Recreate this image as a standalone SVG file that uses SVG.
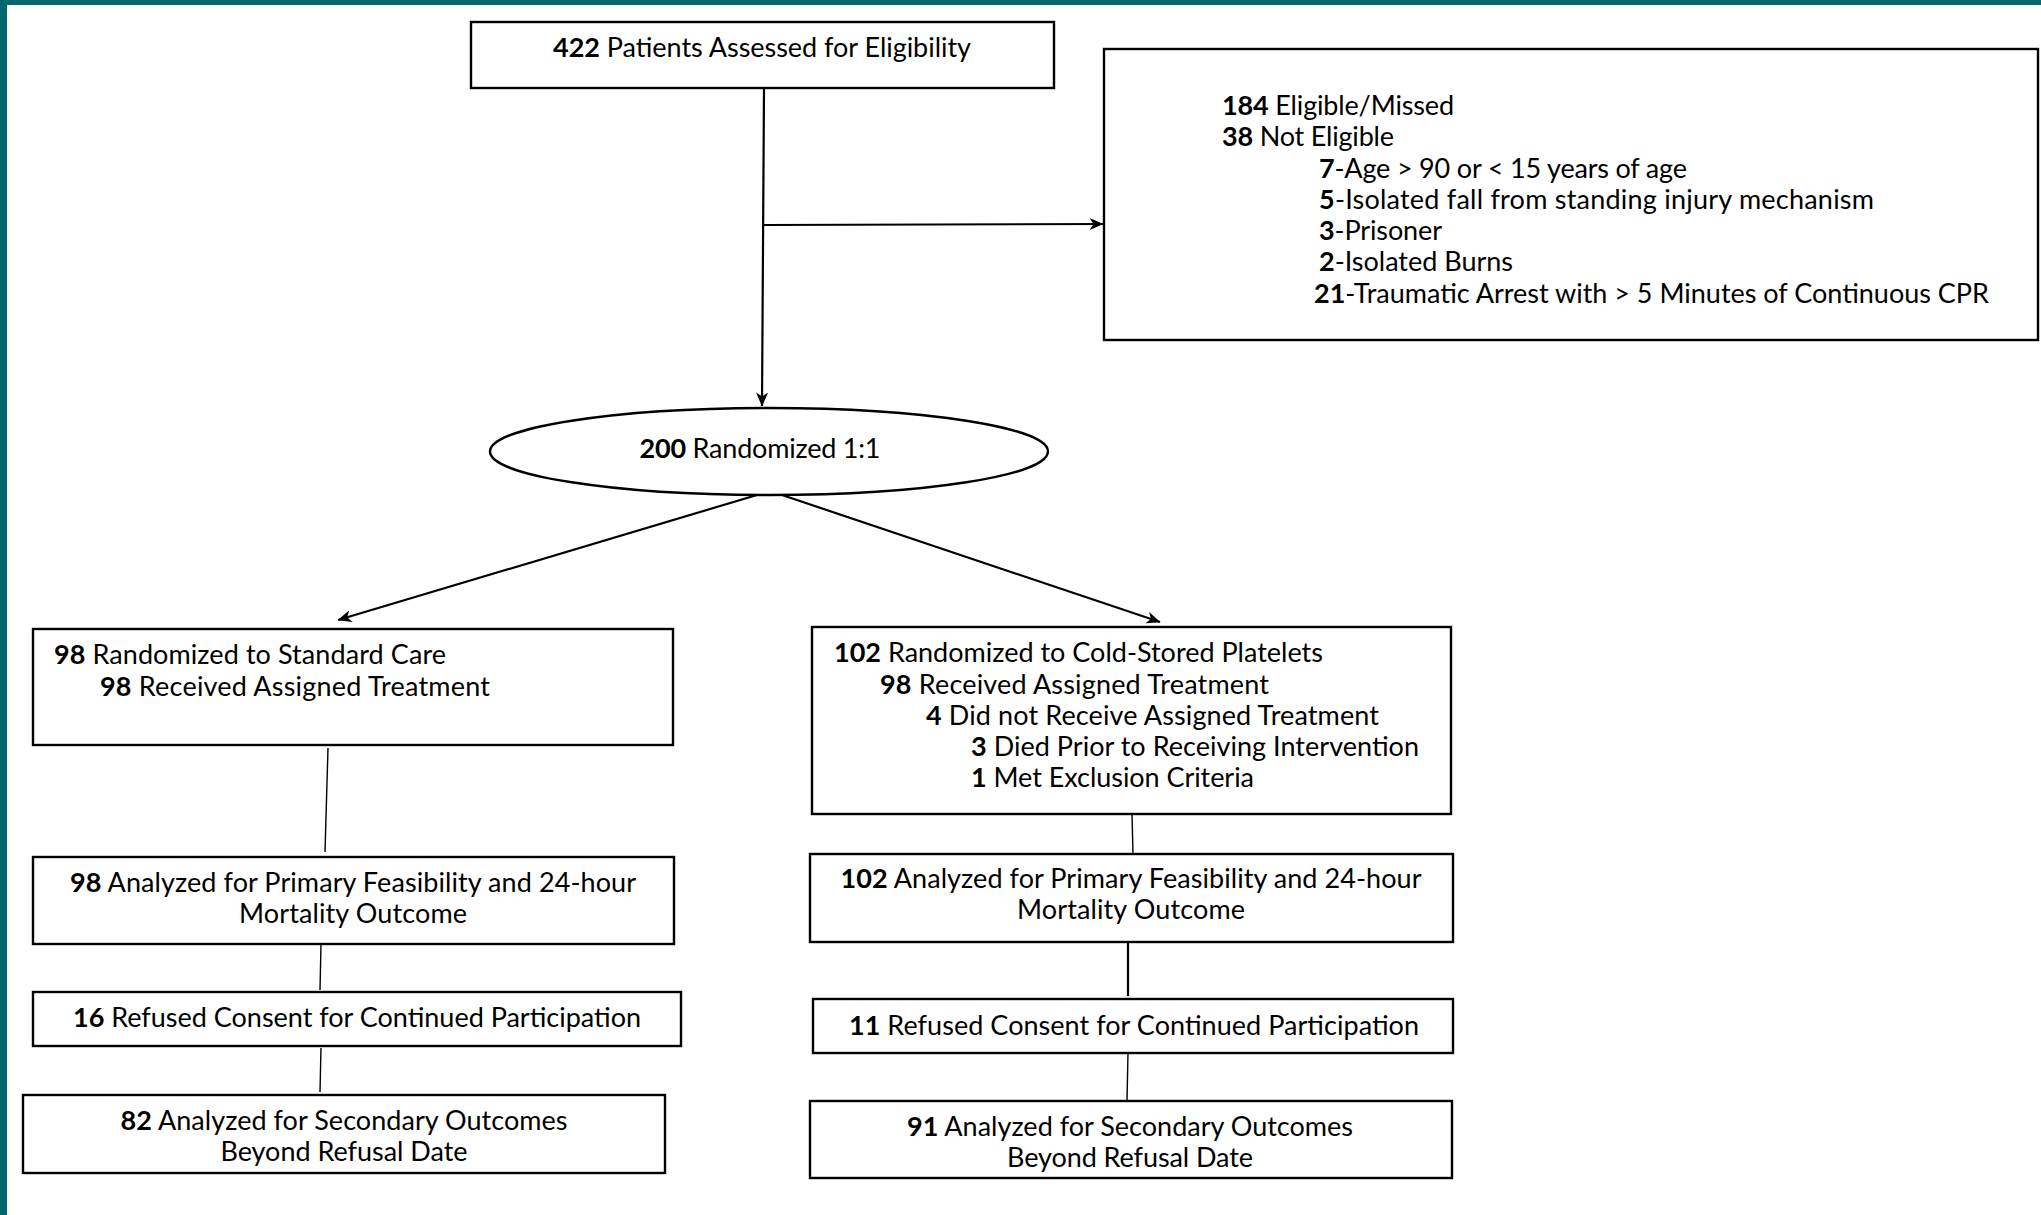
<svg xmlns="http://www.w3.org/2000/svg" width="2041" height="1215" viewBox="0 0 2041 1215">
<style>
  text { font-family: Lato, "Open Sans", "Liberation Sans", sans-serif; font-size: 27px; fill: #000; }
  .b { font-weight: bold; }
  .box { fill: #fff; stroke: #000; stroke-width: 2.4; }
  .c { text-anchor: middle; }
  .conn { stroke: #000; stroke-width: 2.2; fill: none; }
  .thin { stroke: #000; stroke-width: 1.4; fill: none; }
</style>
<defs>
  <marker id="arr" viewBox="0 0 14 12" refX="13.5" refY="6" markerWidth="14" markerHeight="12" markerUnits="userSpaceOnUse" orient="auto">
    <path d="M0,0 L14,6 L0,12 L4,6 z" fill="#000"/>
  </marker>
</defs>
<rect x="0" y="0" width="2041" height="1215" fill="#fff"/>
<rect x="0" y="0" width="2041" height="5" fill="#01676B"/>
<rect x="0" y="0" width="7" height="1215" fill="#01676B"/>

<g id="connectors">
  <line class="conn" x1="764" y1="88" x2="762" y2="406" marker-end="url(#arr)"/>
  <line class="conn" x1="764" y1="225" x2="1103" y2="224" marker-end="url(#arr)"/>
  <line class="conn" x1="757" y1="495" x2="338" y2="620" marker-end="url(#arr)"/>
  <line class="conn" x1="782" y1="495" x2="1160" y2="622" marker-end="url(#arr)"/>
  <line class="thin" x1="328" y1="748" x2="325" y2="852"/>
  <line class="thin" x1="321" y1="944" x2="320" y2="990"/>
  <line class="thin" x1="321" y1="1048" x2="320" y2="1092"/>
  <line class="thin" x1="1132" y1="814" x2="1133" y2="855"/>
  <line class="conn" x1="1128" y1="942" x2="1128" y2="996"/>
  <line class="thin" x1="1128" y1="1053" x2="1127" y2="1100"/>
</g>

<g id="n-assessed">
  <rect class="box" x="471" y="22" width="583" height="66"/>
  <text class="c" x="762" y="56.5" textLength="418"><tspan class="b">422</tspan> Patients Assessed for Eligibility</text>
</g>

<g id="n-excluded">
  <rect class="box" x="1104" y="49" width="934" height="291"/>
  <text x="1222" y="115" textLength="232"><tspan class="b">184</tspan> Eligible/Missed</text>
  <text x="1222" y="146" textLength="172"><tspan class="b">38</tspan> Not Eligible</text>
  <text x="1319" y="178" textLength="368"><tspan class="b">7</tspan>-Age &gt; 90 or &lt; 15 years of age</text>
  <text x="1319" y="209" textLength="555"><tspan class="b">5</tspan>-Isolated fall from standing injury mechanism</text>
  <text x="1319" y="240" textLength="123"><tspan class="b">3</tspan>-Prisoner</text>
  <text x="1319" y="271" textLength="194"><tspan class="b">2</tspan>-Isolated Burns</text>
  <text x="1314" y="303" textLength="675"><tspan class="b">21</tspan>-Traumatic Arrest with &gt; 5 Minutes of Continuous CPR</text>
</g>

<g id="n-randomized">
  <ellipse class="box" cx="769" cy="451.5" rx="279" ry="43.5" stroke-width="1.6"/>
  <text class="c" x="760" y="457.5" textLength="241"><tspan class="b">200</tspan> Randomized 1:1</text>
</g>

<g id="n-standard">
  <rect class="box" x="33" y="629" width="640" height="116"/>
  <text x="54" y="663.5" textLength="392"><tspan class="b">98</tspan> Randomized to Standard Care</text>
  <text x="100" y="695.5" textLength="390"><tspan class="b">98</tspan> Received Assigned Treatment</text>
</g>

<g id="n-cold">
  <rect class="box" x="812" y="627" width="639" height="187"/>
  <text x="834" y="662" textLength="489"><tspan class="b">102</tspan> Randomized to Cold-Stored Platelets</text>
  <text x="880" y="694" textLength="389"><tspan class="b">98</tspan> Received Assigned Treatment</text>
  <text x="926" y="725" textLength="453"><tspan class="b">4</tspan> Did not Receive Assigned Treatment</text>
  <text x="971" y="756" textLength="448"><tspan class="b">3</tspan> Died Prior to Receiving Intervention</text>
  <text x="971" y="787" textLength="283"><tspan class="b">1</tspan> Met Exclusion Criteria</text>
</g>

<g id="n-left-primary">
  <rect class="box" x="33" y="857" width="641" height="87"/>
  <text class="c" x="353" y="892" textLength="566"><tspan class="b">98</tspan> Analyzed for Primary Feasibility and 24-hour</text>
  <text class="c" x="353" y="923" textLength="228">Mortality Outcome</text>
</g>

<g id="n-left-refused">
  <rect class="box" x="33" y="992" width="648" height="54"/>
  <text class="c" x="357" y="1027" textLength="568"><tspan class="b">16</tspan> Refused Consent for Continued Participation</text>
</g>

<g id="n-left-secondary">
  <rect class="box" x="23" y="1095" width="642" height="78"/>
  <text class="c" x="344" y="1130" textLength="447"><tspan class="b">82</tspan> Analyzed for Secondary Outcomes</text>
  <text class="c" x="344" y="1161" textLength="247">Beyond Refusal Date</text>
</g>

<g id="n-right-primary">
  <rect class="box" x="810" y="854" width="643" height="88"/>
  <text class="c" x="1131" y="888" textLength="581"><tspan class="b">102</tspan> Analyzed for Primary Feasibility and 24-hour</text>
  <text class="c" x="1131" y="919" textLength="228">Mortality Outcome</text>
</g>

<g id="n-right-refused">
  <rect class="box" x="813" y="999" width="640" height="54"/>
  <text class="c" x="1134" y="1035" textLength="570"><tspan class="b">11</tspan> Refused Consent for Continued Participation</text>
</g>

<g id="n-right-secondary">
  <rect class="box" x="810" y="1101" width="642" height="77"/>
  <text class="c" x="1130" y="1136" textLength="446"><tspan class="b">91</tspan> Analyzed for Secondary Outcomes</text>
  <text class="c" x="1130" y="1167" textLength="246">Beyond Refusal Date</text>
</g>
</svg>
